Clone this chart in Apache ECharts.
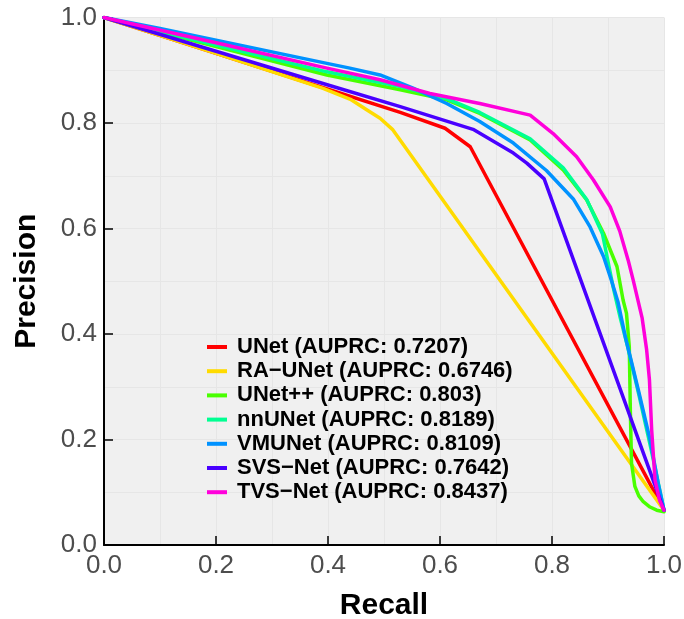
<!DOCTYPE html>
<html><head><meta charset="utf-8">
<script src="https://cdn.jsdelivr.net/npm/echarts@6/dist/echarts.min.js"></script>
<style>html,body{margin:0;padding:0;background:#fff}#c{width:684px;height:619px}</style>
</head><body><div id="c"></div>
<script>
const seriesNames = ['UNet (AUPRC: 0.7207)','RA\u2212UNet (AUPRC: 0.6746)','UNet++ (AUPRC: 0.803)','nnUNet (AUPRC: 0.8189)','VMUNet (AUPRC: 0.8109)','SVS\u2212Net (AUPRC: 0.7642)','TVS\u2212Net (AUPRC: 0.8437)'];
const seriesColors = ['#FF0000','#FFDB00','#49FF00','#00FF92','#0092FF','#4900FF','#FF00DB'];
const xTicks = [0,0.2,0.4,0.6,0.8,1.0];

const unetRecall    = [0,0.2,0.4,0.529,0.609,0.654,1.0];
const unetPrecision = [1,0.932,0.864,0.820,0.790,0.755,0.066];

const raRecall    = [0,0.2,0.39,0.44,0.469,0.493,0.515,1.0];
const raPrecision = [1,0.932,0.866,0.845,0.825,0.809,0.788,0.066];

const unetppRecall    = [0,0.2,0.398,0.529,0.612,0.671,0.761,0.82,0.862,0.892,0.916,0.927,0.933,0.938,0.940,0.942,0.948,0.955,0.963,0.975,0.987,1.0];
const unetppPrecision = [1,0.945,0.891,0.863,0.844,0.818,0.768,0.711,0.654,0.591,0.528,0.464,0.439,0.376,0.25,0.155,0.111,0.093,0.082,0.072,0.066,0.063];

const nnunetRecall    = [0,0.2,0.398,0.529,0.612,0.671,0.761,0.82,0.862,0.89,0.909,0.922,0.935,0.956,0.976,0.991,1.0];
const nnunetPrecision = [1,0.948,0.897,0.869,0.846,0.820,0.770,0.715,0.655,0.590,0.49,0.43,0.376,0.281,0.186,0.111,0.066];

const vmunetRecall    = [0,0.1,0.398,0.439,0.493,0.552,0.612,0.671,0.731,0.79,0.838,0.868,0.892,0.906,0.918,0.932,0.955,0.975,0.99,1.0];
const vmunetPrecision = [1,0.979,0.913,0.904,0.891,0.866,0.837,0.803,0.762,0.710,0.656,0.603,0.547,0.502,0.46,0.39,0.29,0.2,0.115,0.066];

const svsRecall    = [0,0.2,0.4,0.529,0.659,0.731,0.755,0.786,1.0];
const svsPrecision = [1,0.936,0.872,0.831,0.788,0.743,0.724,0.694,0.066];

const tvsRecall    = [0,0.2,0.398,0.493,0.582,0.671,0.761,0.802,0.844,0.874,0.904,0.921,0.936,0.945,0.961,0.969,0.974,0.978,0.984,0.992,1.0];
const tvsPrecision = [1,0.952,0.904,0.882,0.856,0.837,0.815,0.780,0.736,0.692,0.641,0.595,0.540,0.502,0.430,0.370,0.313,0.218,0.123,0.085,0.066];

const allRecall = [unetRecall, raRecall, unetppRecall, nnunetRecall, vmunetRecall, svsRecall, tvsRecall];
const allPrecision = [unetPrecision, raPrecision, unetppPrecision, nnunetPrecision, vmunetPrecision, svsPrecision, tvsPrecision];

const FONT = '"Liberation Sans", Arial, sans-serif';
const chart = echarts.init(document.getElementById('c'), null, {renderer:'canvas'});

const series = seriesNames.map((n, i) => ({
  name: n, type: 'line', symbol: 'none', smooth: false,
  color: seriesColors[i],
  lineStyle: {width: 3.5, color: seriesColors[i], cap: 'round', join: 'round'},
  data: allRecall[i].map((r, j) => [r, allPrecision[i][j]]),
  animation: false
}));

function axisCommon() {
  return {
    type: 'value', min: 0, max: 1, interval: 0.2,
    axisLine: {show: true, onZero: false, lineStyle: {color: '#000', width: 2}},
    axisTick: {show: true, inside: true, length: 9, lineStyle: {color: '#000', width: 1.5}},
    axisLabel: {color: '#4D4D4D', fontSize: 26, fontFamily: FONT, formatter: v => v.toFixed(1)},
    splitLine: {show: true, lineStyle: {color: '#E6E6E6', width: 1}},
    minorTick: {show: false, splitNumber: 2},
    minorSplitLine: {show: true, lineStyle: {color: '#E6E6E6', width: 1}},
    nameLocation: 'middle',
    nameTextStyle: {color: '#000', fontSize: 30, fontWeight: 'bold', fontFamily: FONT}
  };
}

const xAxis = Object.assign(axisCommon(), {name: 'Recall', nameGap: 46});
xAxis.axisLabel.margin = 8;
const yAxis = Object.assign(axisCommon(), {name: 'Precision', nameGap: 62, nameRotate: 90});
yAxis.axisLabel.margin = 7;

chart.setOption({
  animation: false,
  grid: {left: 104, right: 20, top: 17.5, bottom: 74, show: true, backgroundColor: '#F0F0F0', borderWidth: 0, containLabel: false, outerBoundsMode: 'none'},
  xAxis: xAxis,
  yAxis: yAxis,
  legend: {
    orient: 'vertical', left: 202, top: 331,
    icon: 'rect', itemWidth: 20, itemHeight: 4, itemGap: 2.2,
    textStyle: {fontSize: 22, fontWeight: 'bold', color: '#000', fontFamily: FONT, lineHeight: 22, padding: [0,0,0,5]},
    data: seriesNames.map((n, i) => ({name: n, itemStyle: {color: seriesColors[i]}}))
  },
  series: series
});
</script></body></html>
